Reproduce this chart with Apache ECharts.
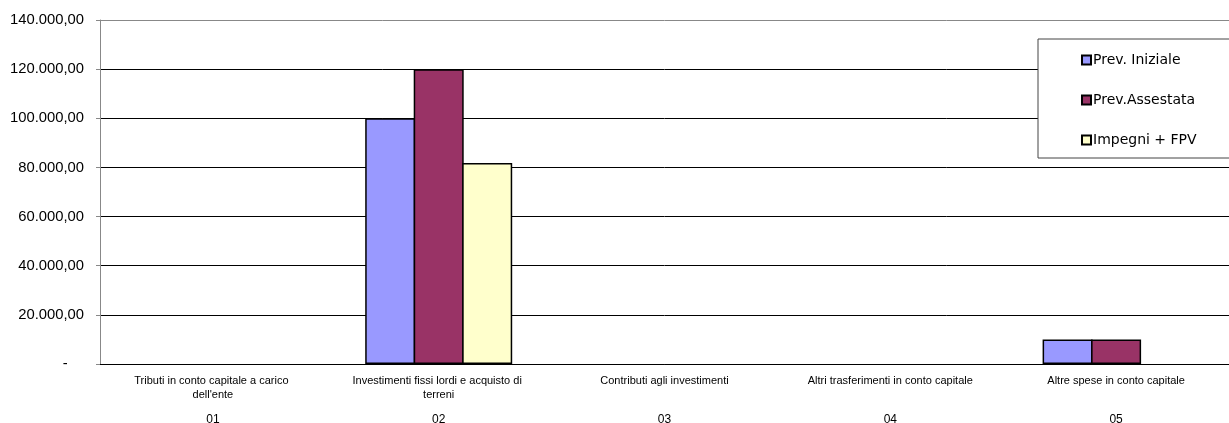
<!DOCTYPE html>
<html>
<head>
<meta charset="utf-8">
<script src="https://cdn.jsdelivr.net/npm/echarts@6/dist/echarts.min.js"></script>
<style>html,body{margin:0;padding:0;background:#fff;}#c{width:1229px;height:423px;}</style>
</head>
<body>
<div id="c"></div>
<script>
const categories = ["Tributi in conto capitale a carico dell'ente", "Investimenti fissi lordi e acquisto di terreni", "Contributi agli investimenti", "Altri trasferimenti in conto capitale", "Altre spese in conto capitale"];
const codes = ["01", "02", "03", "04", "05"];
const seriesNames = ["Prev. Iniziale", "Prev.Assestata", "Impegni + FPV"];
const prevIniziale = [null, 100000, null, null, 10000];
const prevAssestata = [null, 120000, null, null, 10000];
const impegniFpv = [null, 81800, null, null, null];
const colors = ["#9999FF", "#993366", "#FFFFCC"];

function fmt(v) {
  if (v === 0) return '-    ';
  const s = Math.round(v).toString().replace(/\B(?=(\d{3})+(?!\d))/g, '.');
  return s + ',00';
}

const chart = echarts.init(document.getElementById('c'));
const seriesData = [prevIniziale, prevAssestata, impegniFpv];
chart.setOption({
  animation: false,
  backgroundColor: '#fff',
  grid: { left: 100, right: 0, top: 20, bottom: 59, containLabel: false, outerBoundsMode: 'none' },
  legend: {
    orient: 'vertical',
    left: 1038, top: 39,
    padding: [14, 60, 11, 43],
    borderColor: '#444', borderWidth: 1, backgroundColor: '#fff',
    itemWidth: 9, itemHeight: 9, itemGap: 26,
    icon: 'rect',
    textStyle: { fontFamily: 'DejaVu Sans', fontSize: 14, color: '#000', lineHeight: 13, padding: [0, 0, 0, -3] },
    data: seriesNames
  },
  xAxis: [{
    type: 'category', data: categories, position: 'bottom',
    axisLine: { lineStyle: { color: '#000', width: 1 } },
    axisTick: { show: false },
    axisLabel: { interval: 0, margin: 10, width: 180, overflow: 'break', fontFamily: 'Liberation Sans', fontSize: 11, color: '#000', lineHeight: 14 }
  }, {
    type: 'category', data: codes, position: 'bottom', offset: 50,
    axisLine: { show: false }, axisTick: { show: false },
    axisLabel: { interval: 0, margin: 0, fontFamily: 'Liberation Sans', fontSize: 12, color: '#000' }
  }],
  yAxis: {
    type: 'value', min: 0, max: 140000, interval: 20000,
    axisLine: { show: true, lineStyle: { color: '#888' } },
    axisTick: { show: true, length: 4, lineStyle: { color: '#888' } },
    axisLabel: { margin: 16, formatter: fmt, fontFamily: 'Liberation Sans', fontSize: 14.8, color: '#000' },
    splitLine: { show: true, lineStyle: { color: ['#000', '#000', '#000', '#000', '#000', '#000', '#000', '#888'], width: 1 } }
  },
  series: seriesNames.map((n, i) => ({
    name: n, type: 'bar', xAxisIndex: 0, data: seriesData[i],
    barWidth: 50, barGap: '-3%',
    itemStyle: { color: colors[i], borderColor: '#000', borderWidth: 1.5 }
  }))
});
</script>
</body>
</html>
